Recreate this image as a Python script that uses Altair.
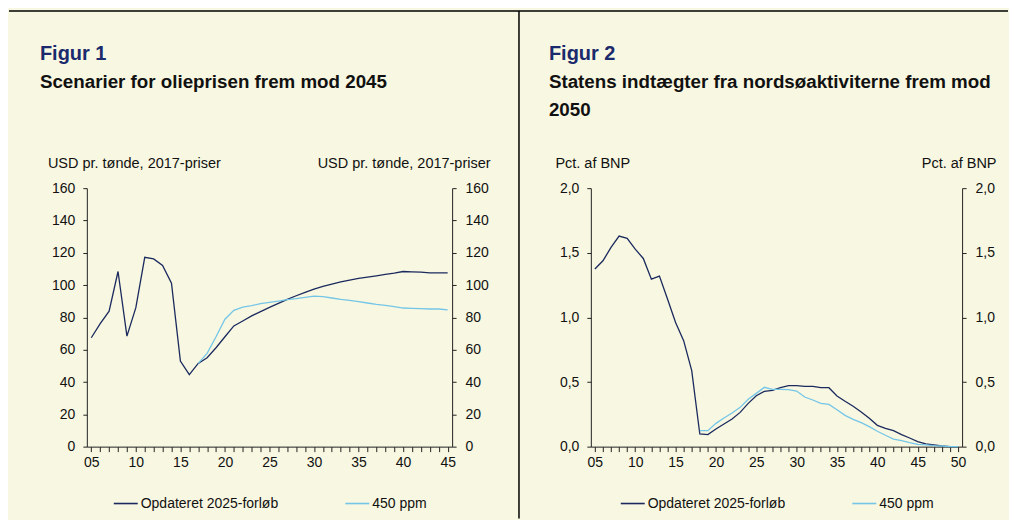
import altair as alt
import pandas as pd

FONT = "Liberation Sans"
BG = "#F8F7E1"
DARK = "#1B2A5E"
LIGHT = "#74C6E8"
NAVY_TITLE = "#1A2A6C"

series_names = ["Opdateret 2025-forløb", "450 ppm"]

# ---------------- Figur 1: oil price scenarios ----------------
fig1_label = "Figur 1"
fig1_title = "Scenarier for olieprisen frem mod 2045"
fig1_unit = "USD pr. tønde, 2017-priser"
years1_base = list(range(2005, 2046))
oil_base = [67.4, 76.2, 83.8, 108.4, 68.4, 86.0, 117.2, 116.2, 112.1, 101.2,
            53.0, 44.6, 51.5, 55.0, 61.2, 68.0, 74.7, 77.8, 80.9, 83.6,
            86.2, 88.7, 91.2, 93.4, 95.5, 97.5, 99.2, 100.6, 102.0, 103.1,
            104.1, 104.9, 105.7, 106.6, 107.4, 108.4, 108.2, 108.0, 107.6, 107.6,
            107.6]
years1_450 = list(range(2017, 2046))
oil_450 = [51.5, 57.7, 68.0, 78.9, 84.4, 86.4, 87.3, 88.5, 89.3, 90.1,
           91.0, 91.6, 92.4, 93.2, 92.8, 92.0, 91.2, 90.6, 89.7, 88.9,
           88.1, 87.5, 86.7, 85.8, 85.6, 85.4, 85.2, 85.2, 84.6]
y1_ticks = [0, 20, 40, 60, 80, 100, 120, 140, 160]

# ---------------- Figur 2: state revenue ----------------
fig2_label = "Figur 2"
fig2_title = ["Statens indtægter fra nordsøaktiviterne frem mod", "2050"]
fig2_unit = "Pct. af BNP"
years2_base = list(range(2005, 2051))
rev_base = [1.374, 1.438, 1.541, 1.629, 1.611, 1.528, 1.456, 1.296, 1.320, 1.142,
            0.961, 0.820, 0.588, 0.098, 0.093, 0.137, 0.175, 0.214, 0.265, 0.335,
            0.394, 0.428, 0.436, 0.456, 0.472, 0.472, 0.466, 0.466, 0.456, 0.456,
            0.392, 0.351, 0.312, 0.268, 0.219, 0.165, 0.142, 0.124, 0.093, 0.067,
            0.039, 0.021, 0.013, 0.005, 0.0, 0.0]
years2_450 = list(range(2018, 2051))
rev_450 = [0.124, 0.124, 0.180, 0.222, 0.260, 0.304, 0.366, 0.412, 0.459, 0.443,
           0.443, 0.441, 0.430, 0.384, 0.361, 0.335, 0.327, 0.286, 0.242, 0.211,
           0.186, 0.155, 0.119, 0.088, 0.059, 0.046, 0.031, 0.018, 0.013, 0.008,
           0.005, 0.0, 0.0]
y2_ticks = [0.0, 0.5, 1.0, 1.5, 2.0]


def long_df(y_a, v_a, y_b, v_b):
    a = pd.DataFrame({"year": y_a, "value": v_a, "series": series_names[0]})
    b = pd.DataFrame({"year": y_b, "value": v_b, "series": series_names[1]})
    return pd.concat([a, b], ignore_index=True)


def panel(df, x_domain, y_domain, y_vals, y_label_expr, unit, label, title_lines,
          width, height, title_dx, unit_left_x, unit_right_x, legend_x,
          rules=False):
    x_vals = list(range(x_domain[0] + 1, x_domain[1] + 1))
    x_axis = alt.Axis(values=x_vals,
                      labelExpr="datum.value % 5 == 0 ? format(datum.value % 100, '02d') : ''",
                      labelOverlap=False, labelFlush=False, grid=False, title=None,
                      tickSize=5, labelPadding=4)
    x_enc = alt.X("year:Q", scale=alt.Scale(domain=[x_domain[0] + 0.5, x_domain[1] + 0.5],
                                             nice=False, zero=False), axis=x_axis)
    y_scale = alt.Scale(domain=y_domain, nice=False, zero=True)
    left_kw = dict(orient="left", values=y_vals, grid=False, tickSize=4, labelPadding=8,
                   title=unit, titleAngle=0, titleAlign="left", titleBaseline="middle",
                   titleX=unit_left_x, titleY=-25)
    right_kw = dict(orient="right", values=y_vals, grid=False, tickSize=4, labelPadding=9,
                    title=unit, titleAngle=0, titleAlign="right", titleBaseline="middle",
                    titleX=unit_right_x, titleY=-25)
    if y_label_expr:
        left_kw["labelExpr"] = y_label_expr
        right_kw["labelExpr"] = y_label_expr

    lines = alt.Chart(df).mark_line(strokeWidth=1.3).encode(
        x=x_enc,
        y=alt.Y("value:Q", scale=y_scale, axis=alt.Axis(**left_kw)),
        color=alt.Color("series:N",
                        scale=alt.Scale(domain=series_names, range=[DARK, LIGHT]),
                        sort=series_names,
                        legend=alt.Legend(title=None, orient="none", direction="horizontal",
                                          legendX=legend_x, legendY=303,
                                          symbolType="stroke", symbolSize=576,
                                          symbolStrokeWidth=1.6, labelOffset=2,
                                          columnPadding=63, labelFont=FONT,
                                          labelFontSize=14, labelColor="#111")),
        order=alt.Order("year:Q"),
    )
    right_axis = alt.Chart(df).mark_line(strokeOpacity=0).encode(
        x=x_enc,
        y=alt.Y("value:Q", scale=y_scale, axis=alt.Axis(**right_kw)),
    )
    head = alt.Chart(pd.DataFrame({"t": [label]})).mark_text(
        align="left", baseline="alphabetic", font=FONT, fontSize=20,
        fontWeight="bold", color=NAVY_TITLE,
    ).encode(x=alt.value(title_dx), y=alt.value(-128), text="t:N")
    sub = alt.Chart(pd.DataFrame({"t": ["\n".join(title_lines)]})).mark_text(
        align="left", baseline="alphabetic", font=FONT, fontSize=18.8,
        fontWeight="bold", color="#111", lineBreak="\n", lineHeight=28,
    ).encode(x=alt.value(title_dx), y=alt.value(-100), text="t:N")
    layers = [lines, right_axis, head, sub]
    if rules:
        one = pd.DataFrame({"k": [0]})
        top = alt.Chart(one).mark_rule(color="#000", strokeWidth=1.5).encode(
            x=alt.value(-78), x2=alt.value(923), y=alt.value(-177.5))
        div = alt.Chart(one).mark_rule(color="#000", strokeWidth=1.5).encode(
            x=alt.value(433), y=alt.value(-177.5), y2=alt.value(331))
        layers += [top, div]
    return alt.layer(*layers).resolve_scale(y="independent").properties(
        width=width, height=height)


df1 = long_df(years1_base, oil_base, years1_450, oil_450)
df2 = long_df(years2_base, rev_base, years2_450, rev_450)

left = panel(df1, (2004, 2045), [0, 160], y1_ticks, None, fig1_unit, fig1_label,
             [fig1_title], 366, 259, -47, -39.5, 38, 26, rules=True)
right = panel(df2, (2004, 2050), [0, 2], y2_ticks,
              "replace(format(datum.value, '.1f'), '.', ',')", fig2_unit, fig2_label,
              fig2_title, 372, 259, -42, -36, 34, 29)

chart = alt.hconcat(left, right, spacing=139, bounds="flush").resolve_scale(
    color="independent"
).properties(
    padding={"left": 0, "top": 1, "right": 0, "bottom": 0}
).configure(
    background=BG, font=FONT
).configure_view(
    stroke=None
).configure_axis(
    domainColor="#222", domainWidth=1, tickColor="#222", tickWidth=1,
    labelFont=FONT, labelFontSize=14, labelColor="#111",
    titleFont=FONT, titleFontSize=14.5, titleFontWeight="normal", titleColor="#111",
)

chart.save("out.html", embed_options={"renderer": "svg", "actions": False})
